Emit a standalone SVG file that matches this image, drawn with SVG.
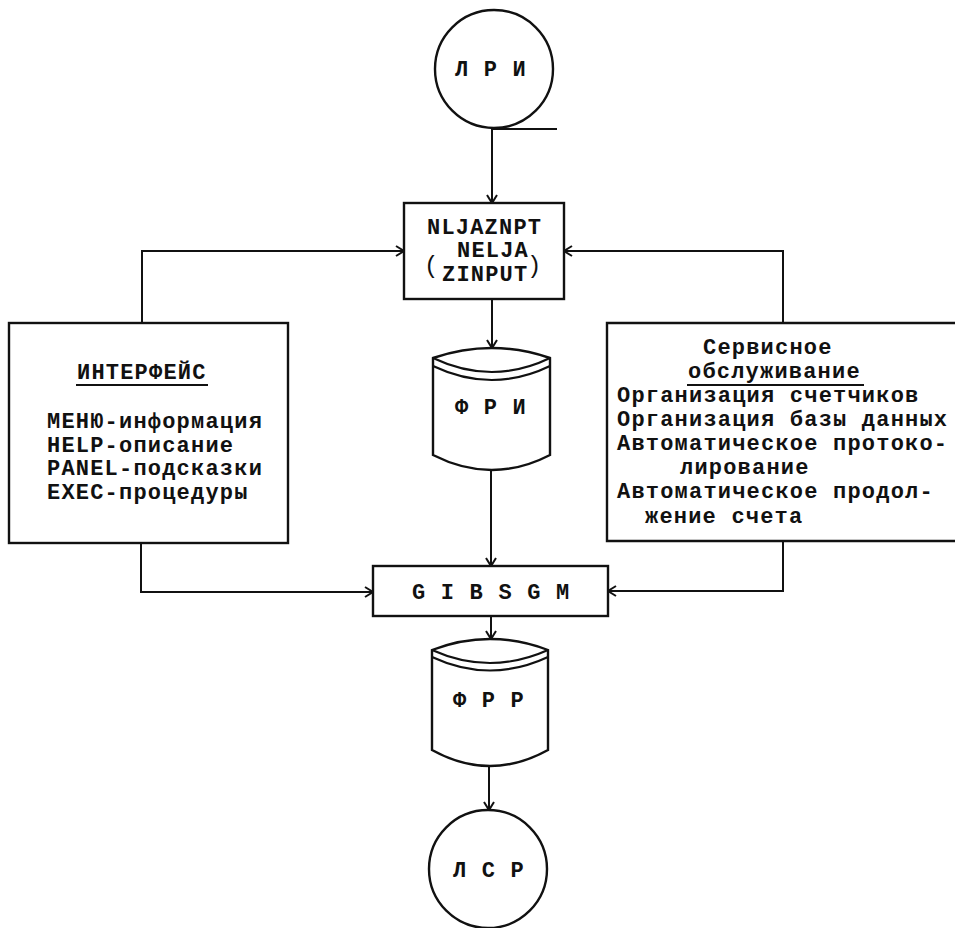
<svg xmlns="http://www.w3.org/2000/svg" width="955" height="928" viewBox="0 0 955 928">
<style>
.s{fill:none;stroke:#111;stroke-width:2.2}
.n{fill:#fff;stroke:#111;stroke-width:2.4}
.c{fill:none;stroke:#111;stroke-width:2}
text{font-family:"Liberation Mono","DejaVu Sans Mono",monospace;font-size:22px;font-weight:bold;letter-spacing:1.2px;fill:#111}
.p{font-size:24px;letter-spacing:0;font-weight:normal}
.u{stroke:#111;stroke-width:2}
</style>
<defs>
<marker id="a" markerWidth="12" markerHeight="12" refX="9" refY="6" orient="auto" markerUnits="userSpaceOnUse">
<path d="M1,1 L9,6 L1,11" fill="none" stroke="#111" stroke-width="2"/>
</marker>
</defs>
<rect width="955" height="928" fill="#fff"/>
<g id="connectors">
<line class="c" x1="492" y1="128" x2="492" y2="203" marker-end="url(#a)"/>
<line class="c" x1="492" y1="129" x2="557" y2="129"/>
<line class="c" x1="492" y1="299" x2="492" y2="348" marker-end="url(#a)"/>
<polyline class="c" points="142,323 142,251 404,251" marker-end="url(#a)"/>
<polyline class="c" points="783,323 783,251 564,251" marker-end="url(#a)"/>
<line class="c" x1="491" y1="470" x2="491" y2="566" marker-end="url(#a)"/>
<polyline class="c" points="141,543 141,592 373,592" marker-end="url(#a)"/>
<polyline class="c" points="783,541 783,591 608,591" marker-end="url(#a)"/>
<line class="c" x1="491" y1="616" x2="491" y2="639" marker-end="url(#a)"/>
<line class="c" x1="489" y1="766" x2="489" y2="810" marker-end="url(#a)"/>
</g>
<g id="lri">
<circle class="n" cx="494" cy="69" r="59"/>
<text x="455" y="76">Л Р И</text>
</g>
<g id="nljaznpt">
<rect class="n" x="404" y="203" width="160" height="96"/>
<text x="427" y="234">NLJAZNPT</text>
<text x="457" y="257">NELJA</text>
<text x="442" y="281">ZINPUT</text>
<text class="p" x="424" y="273">(</text>
<text class="p" x="527" y="273">)</text>
</g>
<g id="fri">
<path class="n" d="M433,358 Q492,338 550,358 L550,455 Q492,485 433,455 Z"/>
<path class="s" d="M433,358 Q492,386 550,358"/>
<path class="s" d="M433,366 Q492,394 550,366"/>
<text x="455" y="414">Ф Р И</text>
</g>
<g id="interface">
<rect class="n" x="9" y="323" width="279" height="220"/>
<text x="77" y="379">ИНТЕРФЕЙС</text>
<line class="u" x1="76" y1="385" x2="208" y2="385"/>
<text x="47" y="428">МЕНЮ-информация</text>
<text x="47" y="452">HELP-описание</text>
<text x="47" y="475">PANEL-подсказки</text>
<text x="47" y="499">EXEC-процедуры</text>
</g>
<g id="service">
<path class="n" d="M958,323 L607,323 L607,541 L958,541"/>
<text x="703" y="354">Сервисное</text>
<text x="688" y="378">обслуживание</text>
<line class="u" x1="687" y1="385" x2="864" y2="385"/>
<text x="617" y="402">Организация счетчиков</text>
<text x="617" y="426">Организация базы данных</text>
<text x="617" y="450">Автоматическое протоко-</text>
<text x="680" y="474">лирование</text>
<text x="617" y="498">Автоматическое продол-</text>
<text x="645" y="523">жение счета</text>
</g>
<g id="gibsgm">
<rect class="n" x="373" y="566" width="235" height="50"/>
<text x="412" y="599">G I B S G M</text>
</g>
<g id="frr">
<path class="n" d="M432,650 Q490,628 548,650 L548,750 Q490,782 432,750 Z"/>
<path class="s" d="M432,650 Q490,676 548,650"/>
<path class="s" d="M432,657 Q490,684 548,657"/>
<text x="453" y="707">Ф Р Р</text>
</g>
<g id="lsr">
<circle class="n" cx="488" cy="869" r="59"/>
<text x="453" y="877">Л С Р</text>
</g>
</svg>
